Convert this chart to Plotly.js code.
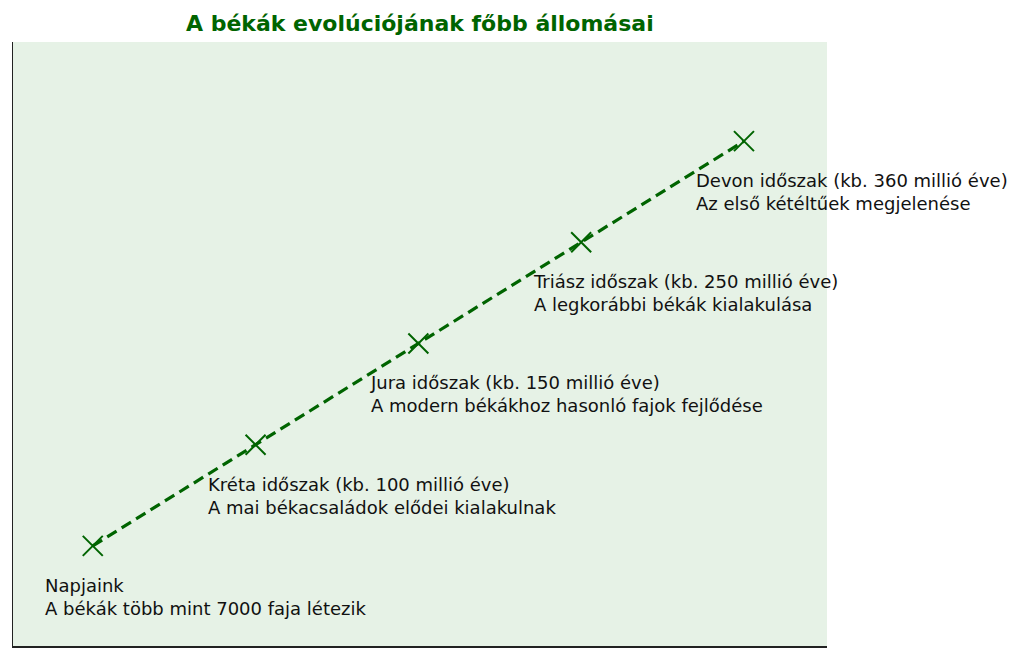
<!DOCTYPE html>
<html>
<head>
<meta charset="utf-8">
<script src="https://cdn.plot.ly/plotly-3.0.1.min.js"></script>
<style>html,body{margin:0;padding:0;background:#fff;}#chart{width:1024px;height:660px;}</style>
</head>
<body>
<div id="chart"></div>
<script>
// Data
const stageX = [0, 1, 2, 3, 4];
const stageY = [0, 1, 2, 3, 4];
const stageTitles = [
  "Napjaink",
  "Kréta időszak (kb. 100 millió éve)",
  "Jura időszak (kb. 150 millió éve)",
  "Triász időszak (kb. 250 millió éve)",
  "Devon időszak (kb. 360 millió éve)"
];
const stageDescriptions = [
  "A békák több mint 7000 faja létezik",
  "A mai békacsaládok elődei kialakulnak",
  "A modern békákhoz hasonló fajok fejlődése",
  "A legkorábbi békák kialakulása",
  "Az első kétéltűek megjelenése"
];
const chartTitle = "A békák evolúciójának főbb állomásai";

const green = "#006400";

const trace = {
  x: stageX,
  y: stageY,
  mode: "lines+markers",
  line: {color: green, width: 3.2, dash: "11px,6px"},
  marker: {symbol: "x-thin-open", size: 20, color: green, line: {color: green, width: 2}},
  hoverinfo: "skip"
};

const annotations = stageX.map((xv, i) => ({
  x: xv, y: stageY[i], xref: "x", yref: "y",
  text: stageTitles[i] + "<br>" + stageDescriptions[i],
  showarrow: false,
  xanchor: "left", yanchor: "top", align: "left",
  xshift: -50, yshift: -27,
  font: {family: "DejaVu Sans", size: 18, color: "#111111"}
}));

const layout = {
  width: 1024, height: 660,
  margin: {l: 13, r: 197, t: 42, b: 14},
  paper_bgcolor: "#ffffff",
  plot_bgcolor: "#e6f2e6",
  showlegend: false,
  title: {
    text: "<b>" + chartTitle + "</b>",
    x: 0.41, xanchor: "center", y: 0.965, yanchor: "middle",
    font: {family: "DejaVu Sans", size: 22, color: green}
  },
  xaxis: {range: [-0.49, 4.51], showticklabels: false, ticks: "", showgrid: false, zeroline: false,
          showline: true, linecolor: "#222", linewidth: 1.5, fixedrange: true},
  yaxis: {range: [-0.99, 4.98], showticklabels: false, ticks: "", showgrid: false, zeroline: false,
          showline: true, linecolor: "#222", linewidth: 1.5, fixedrange: true},
  annotations: annotations
};

Plotly.newPlot("chart", [trace], layout, {displayModeBar: false, staticPlot: true});
</script>
</body>
</html>
